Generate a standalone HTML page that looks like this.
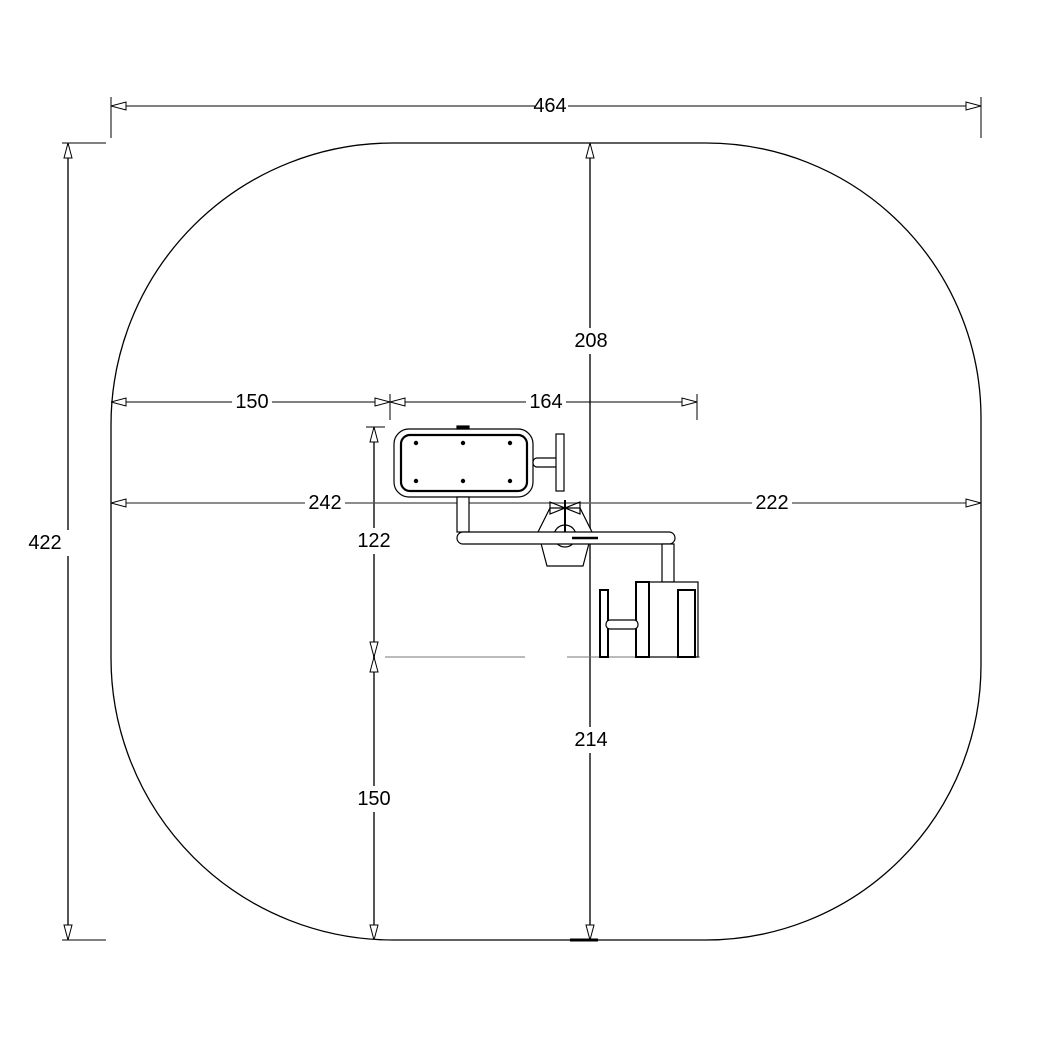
<!DOCTYPE html>
<html><head><meta charset="utf-8"><style>
html,body{margin:0;padding:0;background:#fff}
svg{display:block}
text{font-family:"Liberation Sans",sans-serif;font-size:20px;fill:#000;text-anchor:middle;dominant-baseline:central}
</style></head><body>
<svg width="1058" height="1058" viewBox="0 0 1058 1058" xmlns="http://www.w3.org/2000/svg">
<defs>
<marker id="a" viewBox="0 0 16 10" refX="16" refY="5" markerWidth="16" markerHeight="10" markerUnits="userSpaceOnUse" orient="auto-start-reverse">
<path d="M16,5 L1,1 L1,9 Z" fill="#fff" stroke="#000" stroke-width="1"/>
</marker>
</defs>
<path d="M393,143 L706,143 A275,275 0 0 1 981,418 L981,665 A275,275 0 0 1 706,940 L393,940 A282,282 0 0 1 111,658 L111,425 A282,282 0 0 1 393,143 Z" fill="none" stroke="#000" stroke-width="1.3"/>

<g stroke="#000" stroke-width="1" fill="none">
<line x1="111" y1="97" x2="111" y2="138"/>
<line x1="981" y1="97" x2="981" y2="138"/>
<line x1="111" y1="106" x2="535" y2="106" marker-start="url(#a)"/>
<line x1="568" y1="106" x2="981" y2="106" marker-end="url(#a)"/>
<line x1="62" y1="143" x2="106" y2="143"/>
<line x1="62" y1="940" x2="106" y2="940"/>
<line x1="68" y1="143" x2="68" y2="530" marker-start="url(#a)" stroke="#555" stroke-width="2"/>
<line x1="68" y1="556" x2="68" y2="940" marker-end="url(#a)" stroke="#555" stroke-width="2"/>
<line x1="590" y1="143" x2="590" y2="328" marker-start="url(#a)" stroke="#555" stroke-width="2"/>
<line x1="590" y1="354" x2="590" y2="503" stroke="#555" stroke-width="2"/>
<line x1="590" y1="503" x2="590" y2="727" stroke="#555" stroke-width="2"/>
<line x1="590" y1="753" x2="590" y2="940" marker-end="url(#a)" stroke="#555" stroke-width="2"/>
<line x1="570" y1="940" x2="598" y2="940" stroke-width="3"/>
<line x1="111" y1="503" x2="305" y2="503" marker-start="url(#a)" stroke="#666" stroke-width="1.5"/>
<line x1="345" y1="503" x2="752" y2="503" stroke="#666" stroke-width="1.5"/>
<line x1="792" y1="503" x2="981" y2="503" marker-end="url(#a)" stroke="#666" stroke-width="1.5"/>
<line x1="111" y1="402" x2="232" y2="402" marker-start="url(#a)"/>
<line x1="272" y1="402" x2="390" y2="402" marker-end="url(#a)"/>
<line x1="390" y1="402" x2="526" y2="402" marker-start="url(#a)"/>
<line x1="566" y1="402" x2="697" y2="402" marker-end="url(#a)"/>
<line x1="390" y1="394" x2="390" y2="420"/>
<line x1="697" y1="394" x2="697" y2="420"/>
<line x1="366" y1="427" x2="385" y2="427"/>
<line x1="374" y1="427" x2="374" y2="528" marker-start="url(#a)" stroke="#555" stroke-width="2"/>
<line x1="374" y1="554" x2="374" y2="657" marker-end="url(#a)" stroke="#555" stroke-width="2"/>
<line x1="374" y1="657" x2="374" y2="786" marker-start="url(#a)" stroke="#555" stroke-width="2"/>
<line x1="374" y1="812" x2="374" y2="940" marker-end="url(#a)" stroke="#555" stroke-width="2"/>
<line x1="385" y1="657" x2="525" y2="657" stroke="#777"/>
<line x1="567" y1="657" x2="700" y2="657" stroke="#777"/>
</g>

<g stroke="#000" fill="#fff" stroke-width="1.2">
<rect x="394" y="429" width="139" height="68" rx="15"/>
<rect x="401" y="435" width="126" height="56" rx="9" stroke-width="2.2"/>
<rect x="457" y="426" width="12" height="3" fill="#000"/>
<rect x="533" y="458" width="29" height="9" rx="4"/>
<rect x="556" y="434" width="8" height="57"/>
<rect x="457" y="497" width="12" height="35"/>
<polygon points="550,508 580,508 592,532 583,566 547,566 538,532"/>
<circle cx="565" cy="536" r="11"/>
<rect x="457" y="532" width="218" height="12" rx="6"/>
<line x1="565" y1="500" x2="565" y2="532" stroke-width="2"/>
<path d="M550,502 L580,514 L580,502 L550,514 Z" fill="none"/>
<line x1="572" y1="538" x2="598" y2="538" stroke-width="2.5"/>
<rect x="662" y="544" width="12" height="38"/>
<rect x="636" y="582" width="62" height="75"/>
<rect x="636" y="582" width="13" height="75" stroke-width="2"/>
<rect x="678" y="590" width="17" height="67" stroke-width="2"/>
<rect x="600" y="590" width="8" height="67" stroke-width="2"/>
<rect x="606" y="620" width="32" height="9" rx="4"/>
</g>
<g fill="#000">
<circle cx="416" cy="443" r="2.2"/><circle cx="463" cy="443" r="2.2"/><circle cx="510" cy="443" r="2.2"/>
<circle cx="416" cy="481" r="2.2"/><circle cx="463" cy="481" r="2.2"/><circle cx="510" cy="481" r="2.2"/>
</g>

<text x="550" y="106">464</text>
<text x="45" y="543">422</text>
<text x="591" y="341">208</text>
<text x="591" y="740">214</text>
<text x="325" y="503">242</text>
<text x="772" y="503">222</text>
<text x="252" y="402">150</text>
<text x="546" y="402">164</text>
<text x="374" y="541">122</text>
<text x="374" y="799">150</text>
</svg>
</body></html>
